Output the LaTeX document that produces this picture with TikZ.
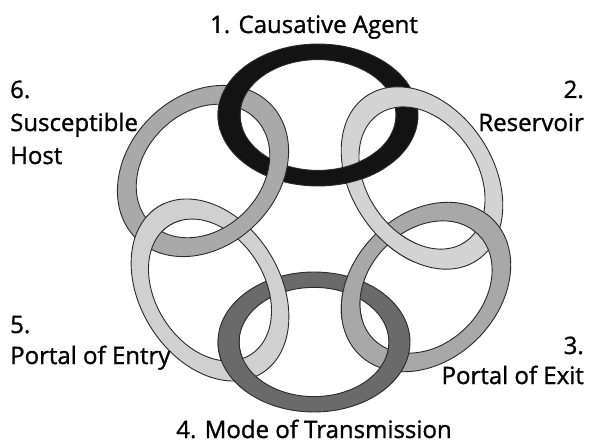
\documentclass[tikz,border=0pt]{standalone}
\usepackage{fontspec}
\setmainfont{Open Sans}
\newfontfamily\lblfont{Open Sans}[FakeBold=1.2]
\definecolor{cA}{HTML}{131313}
\definecolor{cB}{HTML}{D3D3D3}
\definecolor{cC}{HTML}{A8A8A8}
\definecolor{cD}{HTML}{6A6A6A}
\definecolor{cE}{HTML}{D0D0D0}
\definecolor{cF}{HTML}{A9A9A9}
\definecolor{edge}{HTML}{2A2A2A}
% #1 cx, #2 cy (screen), #3 a, #4 b, #5 ai, #6 bi, #7 rotation, #8 colour
\newcommand\ringband[8]{%
  \begin{scope}[shift={(#1,-#2)}, rotate=#7]
    \fill[#8, even odd rule] (0,0) ellipse [x radius=#3pt, y radius=#4pt]
                             (0,0) ellipse [x radius=#5pt, y radius=#6pt];
    \draw[edge, line width=0.9pt] (0,0) ellipse [x radius=#3pt, y radius=#4pt]
                                  (0,0) ellipse [x radius=#5pt, y radius=#6pt];
  \end{scope}}
\newcommand\ringclip[5]{%
  \clip[shift={(#1,-#2)}, rotate=#5] (0,0) ellipse [x radius=#3pt+1.5pt, y radius=#4pt+1.5pt];}
\newcommand\ringone{\ringband{318}{115}{100}{71}{78}{55.4}{0}{cA}}
\newcommand\ringtwo{\ringband{422}{178}{99}{71}{77.2}{55.4}{-56}{cB}}
\newcommand\ringthree{\ringband{426}{287}{95}{73}{74.1}{57}{45}{cC}}
\newcommand\ringfour{\ringband{314}{342}{96}{70}{74.9}{54.6}{0}{cD}}
\newcommand\ringfive{\ringband{210}{290}{98}{70}{76.4}{54.6}{-58}{cE}}
\newcommand\ringsix{\ringband{203}{171}{95}{75}{74.1}{58.5}{45}{cF}}
\newcommand\cliptwo{\ringclip{422}{178}{99}{71}{-56}}
\newcommand\clipthree{\ringclip{426}{287}{95}{73}{45}}
\newcommand\clipfour{\ringclip{314}{342}{96}{70}{0}}
\newcommand\clipfive{\ringclip{210}{290}{98}{70}{-58}}
\newcommand\clipsix{\ringclip{203}{171}{95}{75}{45}}
\begin{document}
\begin{tikzpicture}[x=1pt,y=1pt,
  lbl/.style={inner sep=0pt, font=\lblfont\fontsize{24}{29}\selectfont, text=black}]
\useasboundingbox (0,0) rectangle (592,-444);
\fill[white] (0,0) rectangle (592,-444);

% base rings
\ringone
\ringtwo
\ringthree
\ringfour
\ringfive
\ringsix

% over/under fix-ups
\begin{scope}\clip (230,-100) circle [radius=32pt]; \clipsix \ringone \end{scope}
\begin{scope}\clip (352,-172) circle [radius=32pt]; \cliptwo \ringone \end{scope}
\begin{scope}\clip (352,-292) circle [radius=30pt]; \clipfour \ringthree \end{scope}
\begin{scope}\clip (388,-250) circle [radius=30pt]; \clipthree \ringtwo \end{scope}
\begin{scope}\clip (232,-368) circle [radius=32pt]; \clipfive \ringfour \end{scope}
\begin{scope}\clip (152,-232) circle [radius=32pt]; \clipsix \ringfive \end{scope}

% labels
\node[lbl, anchor=base] (t1) at (314,-33) {1. Causative Agent};
\node[lbl, anchor=base east] (t2a) at (584,-98) {2.};
\node[lbl, anchor=base east] (t2b) at (584,-131) {Reservoir};
\node[lbl, anchor=base east] (t3a) at (584,-354) {3.};
\node[lbl, anchor=base east] (t3b) at (584,-384) {Portal of Exit};
\node[lbl, anchor=base] (t4) at (314,-438) {4. Mode of Transmission};
\node[lbl, anchor=base west] (t5a) at (10,-333) {5.};
\node[lbl, anchor=base west] (t5b) at (10,-364) {Portal of Entry};
\node[lbl, anchor=base west] (t6a) at (10,-98) {6.};
\node[lbl, anchor=base west] (t6b) at (10,-131) {Susceptible};
\node[lbl, anchor=base west] (t6c) at (10,-164) {Host};
\end{tikzpicture}
\end{document}
